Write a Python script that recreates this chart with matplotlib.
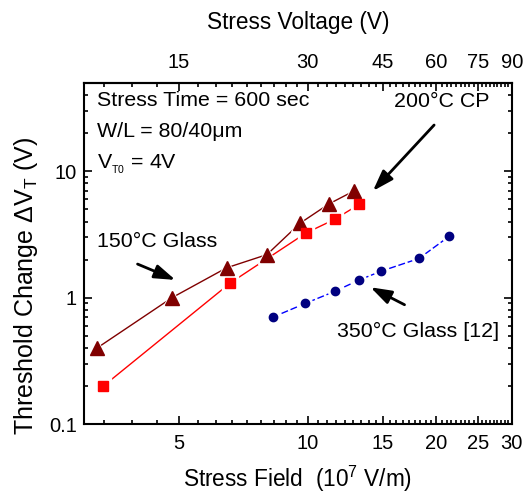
import numpy as np
import matplotlib
matplotlib.use("Agg")
import matplotlib.pyplot as plt
from matplotlib.ticker import FixedLocator, NullFormatter, LogLocator

plt.rcParams['font.family'] = ['Liberation Sans', 'DejaVu Sans']
plt.rcParams['mathtext.fontset'] = 'custom'
plt.rcParams['mathtext.rm'] = 'Liberation Sans'
plt.rcParams['mathtext.it'] = 'Liberation Sans'

# ==== DATA ====
field_150 = [3.22, 4.82, 6.46, 8.03, 9.61, 11.2, 12.85]
dvt_150 = [0.40, 1.00, 1.72, 2.19, 3.89, 5.5, 7.0]

field_200 = [3.33, 6.6, 9.9, 11.56, 13.2]
dvt_200 = [0.20, 1.31, 3.24, 4.16, 5.47]

field_350 = [8.28, 9.87, 11.56, 13.2, 14.86, 18.2, 21.4]
dvt_350 = [0.70, 0.90, 1.12, 1.38, 1.62, 2.04, 3.05]

field_ticks = [5, 10, 15, 20, 25, 30]
volt_ticks = [15, 30, 45, 60, 75, 90]

# ==== FIGURE ====
fig = plt.figure(figsize=(5.26, 4.96), dpi=100)
ax = fig.add_axes([0.1597, 0.145, 0.8133, 0.688])
ax.set_xscale('log')
ax.set_yscale('log')
ax.set_xlim(3, 30)
ax.set_ylim(0.1, 50)

def series(x, y, color, lcolor, marker, ms, ls='-'):
    # line with small gaps around markers (white halo), then markers on top
    ax.plot(x, y, color=lcolor, lw=1.0, ls=ls, zorder=2)
    ax.plot(x, y, ls='none', marker=marker, ms=ms + 4, mfc='white', mec='white', zorder=3)
    ax.plot(x, y, ls='none', marker=marker, ms=ms, mfc=color, mec=color, zorder=4)

series(field_150, dvt_150, '#800000', '#800000', '^', 9.5)
series(field_200, dvt_200, '#ff0000', '#ff0000', 's', 7)
series(field_350, dvt_350, '#000080', '#0000ff', 'o', 6, ls=(0, (5, 2)))

# ticks
ax.xaxis.set_major_locator(FixedLocator(field_ticks))
ax.set_xticklabels([str(t) for t in field_ticks])
minor_f = [n * 5 / 9 for n in range(6, 55) if n % 9 != 0]
ax.xaxis.set_minor_locator(FixedLocator(minor_f))
ax.xaxis.set_minor_formatter(NullFormatter())
ax.yaxis.set_major_locator(FixedLocator([0.1, 1, 10]))
ax.set_yticklabels(['0.1', '1', '10'])
ax.yaxis.set_minor_locator(LogLocator(base=10, subs=np.arange(2, 10)))
ax.yaxis.set_minor_formatter(NullFormatter())
ax.tick_params(which='both', direction='in', right=True, top=False, labelsize=14.5, width=1.2)
ax.tick_params(which='major', length=6)
ax.tick_params(which='minor', length=3)
ax.tick_params(axis='x', pad=7)
ax.tick_params(axis='y', pad=5)
for s in ax.spines.values():
    s.set_linewidth(1.5)

top = ax.secondary_xaxis('top', functions=(lambda e: 3 * e, lambda v: v / 3))
top.xaxis.set_major_locator(FixedLocator(volt_ticks))
top.set_xticklabels([str(t) for t in volt_ticks])
top.xaxis.set_minor_locator(FixedLocator([3 * f for f in minor_f]))
top.xaxis.set_minor_formatter(NullFormatter())
top.tick_params(which='both', direction='in', labelsize=14.5, width=1.2, pad=8)
top.tick_params(which='major', length=6)
top.tick_params(which='minor', length=3)
top.spines['top'].set_linewidth(1.5)
top.set_xlabel('Stress Voltage (V)', fontsize=16.3, labelpad=17)

ax.set_xlabel('Stress Field  (10$^7$ V/m)', fontsize=16.3, labelpad=8)
ax.set_ylabel(r'Threshold Change $\Delta$V$_\mathrm{T}$ (V)', fontsize=18)
ax.yaxis.set_label_coords(-0.103, 0.405)

# text annotations
ax.text(0.03, 0.975, 'Stress Time = 600 sec', transform=ax.transAxes, fontsize=15.4, va='top')
ax.text(0.03, 0.885, 'W/L = 80/40\u03bcm', transform=ax.transAxes, fontsize=15.4, va='top')
ax.text(0.03, 0.795, 'V$_\\mathrm{_{T0}}$ = 4V', transform=ax.transAxes, fontsize=15.4, va='top')
ax.text(0.03, 0.535, '150\u00b0C Glass', transform=ax.transAxes, fontsize=15.4, va='center')
ax.text(0.949, 0.945, '200\u00b0C CP', transform=ax.transAxes, fontsize=15.4, va='center', ha='right')
ax.text(0.97, 0.27, '350\u00b0C Glass [12]', transform=ax.transAxes, fontsize=15.4, va='center', ha='right')

arrow = dict(arrowstyle='-|>,head_length=0.9,head_width=0.3', color='black', lw=2, mutation_scale=14)
def fig_arrow(x0, y0, x1, y1):
    # pixel coordinates of the reference picture (origin top-left)
    ax.annotate('', xy=(x1 / 526, 1 - y1 / 496), xytext=(x0 / 526, 1 - y0 / 496),
                xycoords='figure fraction', textcoords='figure fraction', arrowprops=arrow)

fig_arrow(436, 123, 371, 193)
fig_arrow(135, 263, 178, 281)
fig_arrow(407, 306, 368, 286)

fig.savefig('out.png', dpi=100)
